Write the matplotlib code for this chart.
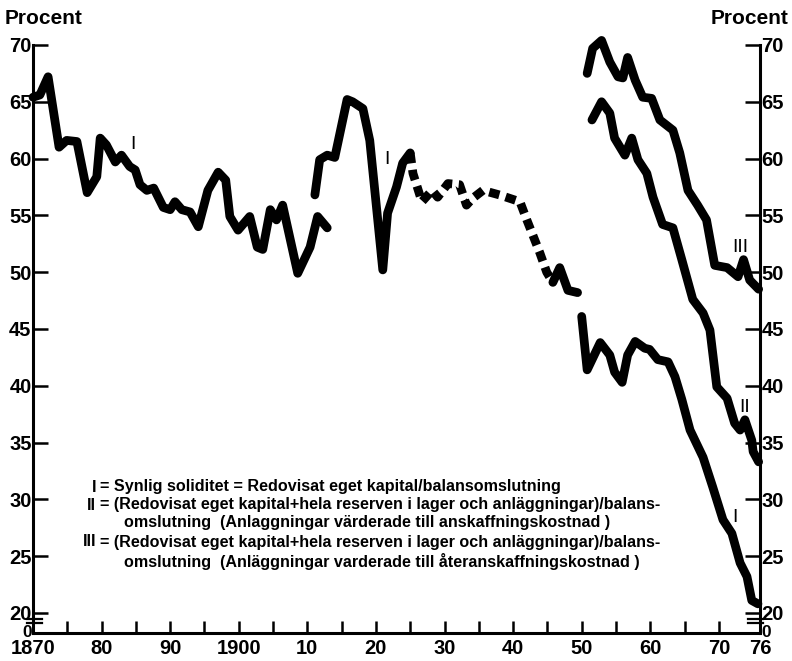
import matplotlib
matplotlib.use("Agg")
import matplotlib.pyplot as plt

# Series I, first basis 1870-1913
i1_years = [1870, 1871, 1872.2, 1873.8, 1874.9, 1876.4, 1877.9, 1879.3, 1879.8, 1880.7,
            1882.0, 1882.9, 1884.1, 1884.9, 1885.6, 1886.6, 1887.6, 1889.0, 1890.0, 1890.7,
            1891.7, 1892.9, 1894.1, 1895.5, 1897.0, 1898.1, 1898.7, 1899.9, 1901.6, 1902.7,
            1903.5, 1904.6, 1905.5, 1906.4, 1908.6, 1910.4, 1911.5, 1912.9]
i1_vals = [65.4, 65.6, 67.2, 61.0, 61.6, 61.5, 57.0, 58.4, 61.8, 61.2,
           59.7, 60.3, 59.3, 59.0, 57.7, 57.2, 57.4, 55.7, 55.5, 56.2,
           55.5, 55.3, 54.0, 57.2, 58.8, 58.1, 54.9, 53.7, 54.9, 52.2,
           52.0, 55.5, 54.6, 55.9, 49.9, 52.2, 54.9, 53.9]

# Series I, second basis 1911-1925
i2_years = [1911.1, 1911.8, 1912.9, 1914.0, 1915.8, 1916.6, 1918.1, 1919.1, 1921.0,
            1921.7, 1923.0, 1923.9, 1925.0]
i2_vals = [56.8, 59.9, 60.3, 60.1, 65.2, 65.0, 64.4, 61.6, 50.2, 55.2, 57.5, 59.6, 60.5]

# Series I, uncertain (dotted) 1925-1946
i3_years = [1925.0, 1925.4, 1926.7, 1928.2, 1929.0, 1930.5, 1932.2, 1933.2, 1934.1,
            1935.6, 1938.0, 1941.0, 1942.0, 1943.9, 1944.9, 1945.8]
i3_vals = [60.5, 58.7, 56.2, 57.2, 56.6, 57.8, 57.7, 55.9, 56.5,
           57.2, 56.8, 56.2, 54.6, 51.7, 50.0, 49.1]

# Series I, 1946-1950
i4_years = [1945.8, 1946.8, 1948.0, 1949.4]
i4_vals = [49.1, 50.4, 48.4, 48.2]

# Series I, 1950-1976
i5_years = [1950.0, 1950.8, 1952.7, 1954.1, 1954.8, 1955.9, 1956.7, 1957.8, 1959.2,
            1959.9, 1961.1, 1962.6, 1963.6, 1964.6, 1965.8, 1967.7, 1969.1, 1970.6,
            1971.9, 1973.1, 1974.1, 1974.8, 1975.7]
i5_vals = [46.1, 41.4, 43.8, 42.7, 41.2, 40.3, 42.7, 43.9, 43.3,
           43.2, 42.3, 42.1, 40.8, 38.8, 36.1, 33.7, 31.1, 28.2,
           27.0, 24.4, 23.2, 21.1, 20.8]

# Series II
ii_years = [1951.5, 1952.9, 1954.1, 1954.8, 1956.3, 1957.3, 1958.2, 1959.5, 1960.4,
            1961.8, 1963.3, 1964.6, 1966.2, 1967.7, 1968.7, 1969.7, 1971.2, 1972.3,
            1973.1, 1973.8, 1974.8, 1975.0, 1975.8]
ii_vals = [63.4, 65.0, 64.0, 61.8, 60.3, 61.8, 59.9, 58.7, 56.6,
           54.2, 53.9, 51.1, 47.6, 46.4, 44.9, 39.9, 38.9, 36.7,
           36.1, 37.0, 35.2, 34.2, 33.3]

# Series III
iii_years = [1950.8, 1951.6, 1952.9, 1954.1, 1955.3, 1956.0, 1956.7, 1957.8, 1958.9,
             1960.2, 1961.4, 1963.3, 1964.3, 1965.5, 1966.9, 1968.2, 1969.4, 1971.2,
             1972.8, 1973.6, 1974.5, 1975.8]
iii_vals = [67.5, 69.7, 70.4, 68.5, 67.2, 67.1, 68.9, 66.9, 65.4,
            65.3, 63.4, 62.5, 60.5, 57.2, 55.9, 54.6, 50.6, 50.4,
            49.6, 51.1, 49.3, 48.5]

ytick_vals = [18.45, 20, 25, 30, 35, 40, 45, 50, 55, 60, 65, 70]
ytick_labels = ['0', '20', '25', '30', '35', '40', '45', '50', '55', '60', '65', '70']
xtick_vals = list(range(1870, 1975, 5)) + [1976]
xtick_labels = ['1870', '', '80', '', '90', '', '1900', '', '10', '', '20', '', '30', '',
                '40', '', '50', '', '60', '', '70', '76']

legend_lines = [
    ('I', '= Synlig soliditet = Redovisat eget kapital/balansomslutning', 487),
    ('II', '= (Redovisat eget kapital+hela reserven i lager och anläggningar)/balans-', 505),
    ('', 'omslutning  (Anlaggningar värderade till anskaffningskostnad )', 523),
    ('III', '= (Redovisat eget kapital+hela reserven i lager och anläggningar)/balans-', 542),
    ('', 'omslutning  (Anläggningar varderade till återanskaffningskostnad )', 561),
]

plt.rcParams['font.family'] = ['Liberation Sans', 'DejaVu Sans']
plt.rcParams['font.weight'] = 'bold'

fig = plt.figure(figsize=(7.92, 6.61), dpi=100)
ax = fig.add_axes([33 / 792, 0.0418, 727 / 792, 0.9457 - 0.0418])

lw = 6.3
kw = dict(color='black', lw=lw, solid_joinstyle='round', solid_capstyle='round', clip_on=False)
ax.plot(i1_years, i1_vals, **kw)
ax.plot(i2_years, i2_vals, **kw)
ax.plot(i3_years, i3_vals, color='black', lw=lw, dashes=(1.2, 0.75), clip_on=False)
ax.plot(i4_years, i4_vals, **kw)
ax.plot(i5_years, i5_vals, **kw)
ax.plot(ii_years, ii_vals, **kw)
ax.plot(iii_years, iii_vals, **kw)

ax.set_xlim(1870, 1976)
ax.set_ylim(18.2, 70.8)

for s in ['left', 'right', 'bottom']:
    ax.spines[s].set_linewidth(2.2)
ax.spines['top'].set_visible(False)
ax.spines['left'].set_bounds(18.2, 70)
ax.spines['right'].set_bounds(18.2, 70)

ax.set_yticks(ytick_vals)
ax.set_yticklabels(ytick_labels)
ax.set_xticks(xtick_vals)
ax.set_xticklabels(xtick_labels)
ax.tick_params(axis='y', direction='in', length=11, width=1.8, left=True, right=True,
               labelleft=True, labelright=True, labelsize=14.5, pad=1)
ax.tick_params(axis='x', direction='in', length=9, width=1.8, labelsize=14.5, pad=4)
t0 = ax.yaxis.get_major_ticks()[0]
t0.tick1line.set_visible(False)
t0.tick2line.set_visible(False)
t0.label1.set_fontsize(12.5)
t0.label2.set_fontsize(12.5)
ax.xaxis.get_major_ticks()[-1].tick1line.set_visible(False)

# axis break marks
tr = ax.get_yaxis_transform()
for yb in (19.5, 19.1):
    ax.plot([-0.008, 0.013], [yb, yb], color='black', lw=1.6, transform=tr, clip_on=False)
    ax.plot([0.983, 1.004], [yb, yb], color='black', lw=1.6, transform=tr, clip_on=False)

fig.text(5 / 792, 1 - 18 / 661, 'Procent', fontsize=15, va='center', ha='left')
fig.text(789 / 792, 1 - 18 / 661, 'Procent', fontsize=15, va='center', ha='right')

# series labels
for x, y, s in [(1884.6, 61.2, 'I'), (1921.6, 59.9, 'I'), (1973.2, 52.2, 'III'),
                (1973.8, 38.1, 'II'), (1972.3, 28.4, 'I')]:
    ax.text(x, y, s, fontsize=14, ha='center', va='center', fontweight='normal')

for num, txt, ypx in legend_lines:
    if num:
        fig.text(96 / 792, 1 - ypx / 661, num, fontsize=11.6, ha='right', va='center')
        fig.text(100 / 792, 1 - ypx / 661, txt, fontsize=11.6, ha='left', va='center')
    else:
        fig.text(124 / 792, 1 - ypx / 661, txt, fontsize=11.6, ha='left', va='center')

fig.savefig('out.png', dpi=100)
